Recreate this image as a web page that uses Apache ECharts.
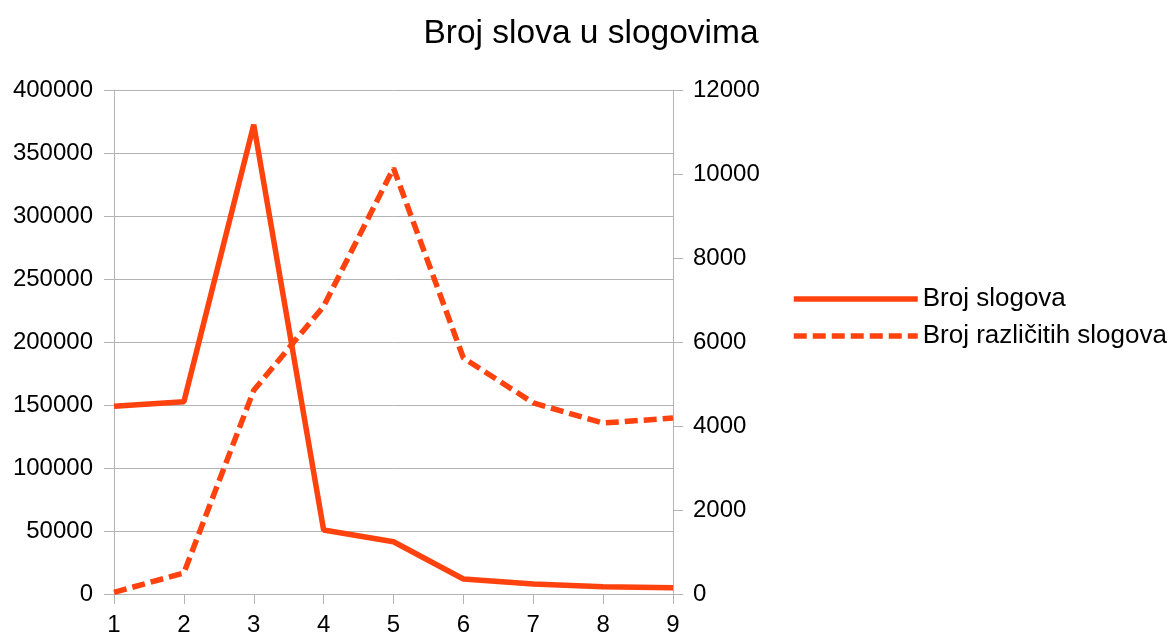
<!DOCTYPE html>
<html>
<head>
<meta charset="utf-8">
<script src="https://cdn.jsdelivr.net/npm/echarts@6/dist/echarts.min.js"></script>
<style>
html,body{margin:0;padding:0;background:#fff;}
#c{width:1176px;height:637px;}
</style>
</head>
<body>
<div id="c"></div>
<script>
const categories = ['1','2','3','4','5','6','7','8','9'];
const brojSlogova = [149000, 152600, 372500, 50800, 41500, 11900, 7900, 5800, 5000];
const brojRazlicitih = [40, 500, 4850, 6850, 10140, 5620, 4550, 4070, 4190];
const seriesNames = ['Broj slogova', 'Broj različitih slogova'];
const titleText = 'Broj slova u slogovima';

const color = '#ff420e';
const font = 'Liberation Sans, Arial, sans-serif';
const dash = [13,6];
const chart = echarts.init(document.getElementById('c'), null, {renderer:'canvas'});
chart.setOption({
  animation:false,
  backgroundColor:'#fff',
  title:{text:titleText,left:586,textAlign:'center',top:12,
    textStyle:{fontFamily:font,fontSize:33.5,fontWeight:'normal',color:'#000'}},
  grid:{left:114,right:503,top:90,bottom:43,containLabel:false},
  legend:{orient:'vertical',left:786,top:281,itemWidth:124,itemHeight:14,itemGap:11,
    textStyle:{fontFamily:font,fontSize:26,color:'#000'},
    itemStyle:{opacity:0},
    data:[
      {name:seriesNames[0],lineStyle:{color:color,width:5.5,type:'solid'}},
      {name:seriesNames[1],lineStyle:{color:color,width:5.5,type:dash}}
    ]},
  xAxis:{type:'category',data:categories,boundaryGap:false,
    axisLine:{lineStyle:{color:'#b3b3b3'}},
    axisTick:{show:true,length:10,alignWithLabel:true,lineStyle:{color:'#b3b3b3'}},
    axisLabel:{margin:19,fontFamily:font,fontSize:24,color:'#000'},
    splitLine:{show:false}},
  yAxis:[
    {type:'value',min:0,max:400000,interval:50000,
      axisLine:{show:true,lineStyle:{color:'#b3b3b3'}},
      axisTick:{show:true,length:10,lineStyle:{color:'#b3b3b3'}},
      axisLabel:{margin:21,fontFamily:font,fontSize:24,color:'#000',formatter:v=>String(v)},
      splitLine:{show:true,lineStyle:{color:'#b3b3b3',width:1}}},
    {type:'value',min:0,max:12000,interval:2000,position:'right',
      axisLine:{show:true,lineStyle:{color:'#b3b3b3'}},
      axisTick:{show:true,length:10,lineStyle:{color:'#b3b3b3'}},
      axisLabel:{margin:20,fontFamily:font,fontSize:24,color:'#000',formatter:v=>String(v)},
      splitLine:{show:false}}
  ],
  series:[
    {name:seriesNames[0],type:'line',data:brojSlogova,yAxisIndex:0,
      symbol:'none',lineStyle:{color:color,width:5.5},itemStyle:{color:color}},
    {name:seriesNames[1],type:'line',data:brojRazlicitih,yAxisIndex:1,
      symbol:'none',lineStyle:{color:color,width:5.5,type:dash}},
  ]
});
</script>
</body>
</html>
